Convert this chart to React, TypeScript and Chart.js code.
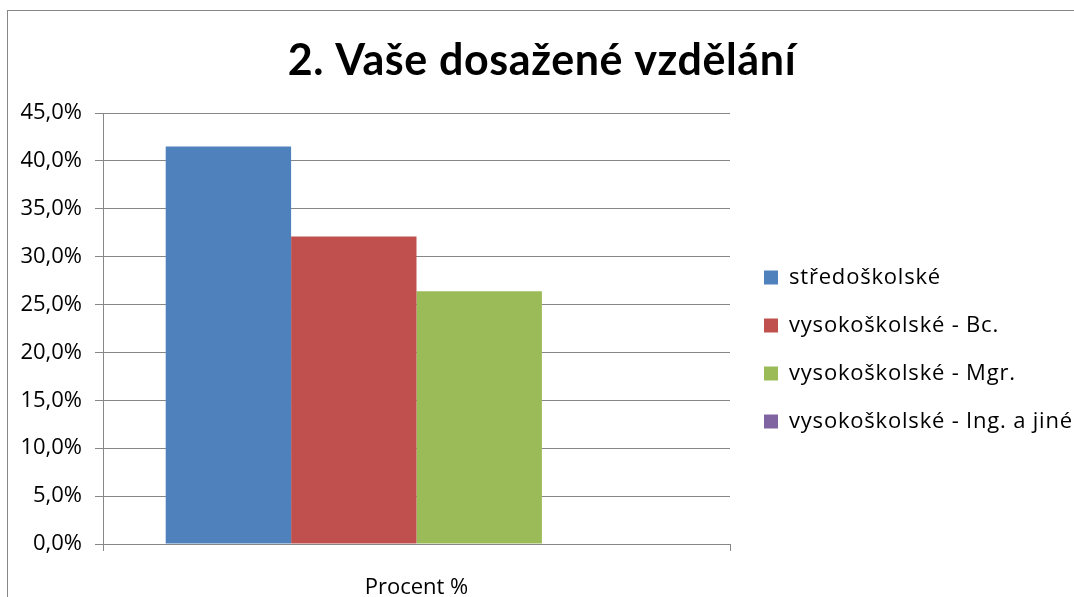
import React, { useEffect, useRef } from "react";
import { Chart, registerables } from "chart.js";

Chart.register(...registerables);

const TITLE = "2. Vaše dosažené vzdělání";
const CATEGORIES = ["Procent %"];
const SERIES_LABELS = [
  "středoškolské",
  "vysokoškolské - Bc.",
  "vysokoškolské - Mgr.",
  "vysokoškolské - Ing. a jiné",
];
const SERIES_VALUES = [41.5, 32.1, 26.4, 0];
const SERIES_COLORS = ["#4F81BD", "#C0504D", "#9BBB59", "#8064A2"];
const Y_MIN = 0;
const Y_MAX = 45;
const Y_STEP = 5;

const TITLE_FONT = "Lato, 'Open Sans', sans-serif";
const FONT = "'Open Sans', Lato, sans-serif";
const GRID = "#878787";

const LEGEND_W = 344;
const LEGEND_DX = 8;
const LEGEND_DY = 21;

const SPACING = { title: 0.6, legend: 0.8, x: 0, y: 0 };

const frame = {
  id: "frame",
  beforeDraw(chart: any) {
    const ctx = chart.ctx;
    ctx.save();
    ctx.fillStyle = "#fff";
    ctx.fillRect(0, 0, chart.width, chart.height);
    ctx.strokeStyle = GRID;
    ctx.lineWidth = 1;
    ctx.strokeRect(7.5, 10.5, 1200, 800);
    ctx.restore();
  },
};

function patchDraw(el: any, spacing: number, dx = 0, dy = 0) {
  if (!el || el.__patched) return;
  const origDraw = el.draw;
  el.draw = function (...args: any[]) {
    const ctx = this.ctx;
    ctx.save();
    (ctx as any).letterSpacing = spacing + "px";
    ctx.translate(dx, dy);
    origDraw.apply(this, args);
    ctx.restore();
  };
  el.__patched = true;
}

const patches = {
  id: "patches",
  beforeUpdate(chart: any) {
    const lg = chart.legend;
    if (lg && !lg.__fitPatched) {
      const origFit = lg.fit;
      lg.fit = function () {
        origFit.call(this);
        this.width = LEGEND_W;
      };
      lg.__fitPatched = true;
    }
    patchDraw(lg, SPACING.legend, LEGEND_DX, LEGEND_DY);
    patchDraw(chart.titleBlock, SPACING.title);
    patchDraw(chart.scales.x, SPACING.x);
    patchDraw(chart.scales.y, SPACING.y);
  },
};

export default function App() {
  const ref = useRef<HTMLCanvasElement | null>(null);
  useEffect(() => {
    if (!ref.current) return;
    const chart = new Chart(ref.current, {
      type: "bar",
      data: {
        labels: CATEGORIES,
        datasets: SERIES_LABELS.map((label, i) => ({
          label,
          data: [SERIES_VALUES[i]],
          backgroundColor: SERIES_COLORS[i],
          borderWidth: 0,
          categoryPercentage: 0.8,
          barPercentage: 1,
        })),
      },
      options: {
        animation: false,
        responsive: false,
        layout: { padding: { left: 10, right: 0, top: 0, bottom: 0 } },
        plugins: {
          title: {
            display: true,
            text: TITLE,
            color: "#000",
            font: { family: TITLE_FONT, size: 43, weight: "bold", lineHeight: 1.2 },
            padding: { top: 35, bottom: 26.4 },
          },
          legend: {
            display: true,
            position: "right",
            align: "center",
            fullSize: false,
            labels: {
              color: "#000",
              font: { family: FONT, size: 22 },
              boxWidth: 14,
              boxHeight: 14,
              padding: 26,
            },
          },
          tooltip: { enabled: false },
        },
        scales: {
          x: {
            offset: true,
            afterFit(scale: any) {
              scale.height = 53;
            },
            grid: {
              offset: true,
              display: true,
              drawOnChartArea: false,
              drawTicks: true,
              tickLength: 7,
              color: GRID,
            },
            border: { display: true, color: GRID },
            ticks: {
              color: "#000",
              font: { family: FONT, size: 22 },
              padding: 24,
              maxRotation: 0,
            },
          },
          y: {
            min: Y_MIN,
            max: Y_MAX,
            afterFit(scale: any) {
              scale.width = 93;
            },
            grid: { color: GRID, tickLength: 8, drawTicks: true },
            border: { display: true, color: GRID },
            ticks: {
              stepSize: Y_STEP,
              color: "#000",
              font: { family: FONT, size: 22 },
              padding: 13,
              callback: (v: any) => Number(v).toFixed(1).replace(".", ",") + "%",
            },
          },
        },
      },
      plugins: [frame, patches],
    });
    return () => chart.destroy();
  }, []);
  return (
    <div style={{ position: "absolute", left: 0, top: 0, width: 1074, height: 597, overflow: "hidden", background: "#fff" }}>
      <canvas ref={ref} width={1074} height={597} style={{ display: "block" }} />
    </div>
  );
}
